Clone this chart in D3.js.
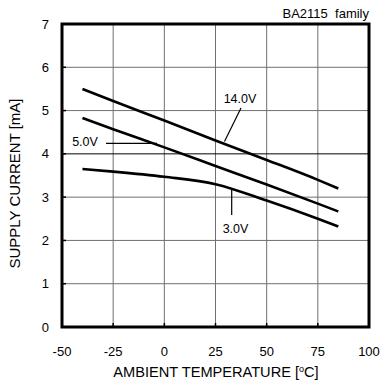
<!DOCTYPE html>
<html>
<head>
<meta charset="utf-8">
<script src="https://cdn.jsdelivr.net/npm/d3@7"></script>
<style>
  html, body { margin: 0; padding: 0; background: #fff; }
  svg text { font-family: Arial, "Liberation Sans", sans-serif; fill: #000; }
</style>
</head>
<body>
<svg id="chart" width="392" height="388"></svg>
<script>
// Supply current vs ambient temperature, three supply voltages
const temps = [-40, -25, 0, 25, 50, 75, 85];
const current14V = [5.50, 5.22, 4.77, 4.31, 3.86, 3.40, 3.20];
const current5V  = [4.83, 4.57, 4.15, 3.72, 3.29, 2.85, 2.67];
const current3V  = [3.65, 3.59, 3.47, 3.30, 2.92, 2.50, 2.32];
const xTicks = [-50, -25, 0, 25, 50, 75, 100];
const yTicks = [0, 1, 2, 3, 4, 5, 6, 7];

const svg = d3.select("#chart");
const plotL = 62, plotR = 369, plotT = 24, plotB = 327;

const x = d3.scaleLinear().domain([-50, 100]).range([plotL, plotR]);
const y = d3.scaleLinear().domain([0, 7]).range([plotB, plotT]);

// grid
const grid = svg.append("g");
grid.selectAll("line.vx").data(xTicks.slice(1, -1)).join("line")
  .attr("x1", d => x(d)).attr("x2", d => x(d))
  .attr("y1", plotT).attr("y2", plotB)
  .attr("stroke", "#707070").attr("stroke-width", 1);
grid.selectAll("line.hy").data(yTicks.slice(1, -1)).join("line")
  .attr("x1", plotL).attr("x2", plotR)
  .attr("y1", d => y(d)).attr("y2", d => y(d))
  .attr("stroke", d => d === 4 ? "#000" : "#707070").attr("stroke-width", 1);

// inner tick marks
svg.append("g").selectAll("line").data(xTicks.slice(1, -1)).join("line")
  .attr("x1", d => x(d)).attr("x2", d => x(d))
  .attr("y1", plotB).attr("y2", plotB - 4)
  .attr("stroke", "#000").attr("stroke-width", 1.5);
svg.append("g").selectAll("line").data(yTicks.slice(1, -1)).join("line")
  .attr("x1", plotL).attr("x2", plotL + 4)
  .attr("y1", d => y(d)).attr("y2", d => y(d))
  .attr("stroke", "#000").attr("stroke-width", 1.5);

// frame
svg.append("rect")
  .attr("x", plotL).attr("y", plotT)
  .attr("width", plotR - plotL).attr("height", plotB - plotT)
  .attr("fill", "none").attr("stroke", "#000").attr("stroke-width", 3);

// tick labels
svg.append("g").selectAll("text").data(xTicks).join("text")
  .attr("x", d => x(d)).attr("y", plotB + 28.5)
  .attr("text-anchor", "middle").attr("font-size", 13)
  .text(d => d);
svg.append("g").selectAll("text").data(yTicks).join("text")
  .attr("x", plotL - 13).attr("y", d => y(d) + 4.5)
  .attr("text-anchor", "end").attr("font-size", 13)
  .text(d => d);

// axis titles
const xTitle = svg.append("text")
  .attr("x", (plotL + 1 + plotR) / 2).attr("y", 377)
  .attr("text-anchor", "middle").attr("font-size", 14.6);
xTitle.append("tspan").text("AMBIENT TEMPERATURE [");
xTitle.append("tspan").attr("font-size", 9).attr("dy", -5).text("o");
xTitle.append("tspan").attr("dy", 5).text("C]");

svg.append("text")
  .attr("transform", `translate(20, ${(plotT + plotB) / 2 + 8}) rotate(-90)`)
  .attr("text-anchor", "middle").attr("font-size", 15)
  .text("SUPPLY CURRENT [mA]");

svg.append("text")
  .attr("x", plotR).attr("y", 18)
  .attr("text-anchor", "end").attr("font-size", 13)
  .attr("xml:space", "preserve")
  .text("BA2115  family");

// curves
const line = d3.line()
  .x((d, i) => x(temps[i]))
  .y(d => y(d))
  .curve(d3.curveMonotoneX);

[current14V, current5V, current3V].forEach(series => {
  svg.append("path")
    .attr("d", line(series))
    .attr("fill", "none")
    .attr("stroke", "#000")
    .attr("stroke-width", 2.6)
    .attr("stroke-linecap", "butt");
});

// callouts
const ann = svg.append("g").attr("stroke", "#000").attr("stroke-width", 1.2);
ann.append("line").attr("x1", 241).attr("y1", 108).attr("x2", 224.5).attr("y2", 141.5);
ann.append("line").attr("x1", 106).attr("y1", 143.3).attr("x2", 157).attr("y2", 143.3);
ann.append("line").attr("x1", 231.7).attr("y1", 189).attr("x2", 231.7).attr("y2", 215);

svg.append("text").attr("x", 240).attr("y", 103)
  .attr("text-anchor", "middle").attr("font-size", 12.5).text("14.0V");
svg.append("text").attr("x", 85).attr("y", 146)
  .attr("text-anchor", "middle").attr("font-size", 12.5).text("5.0V");
svg.append("text").attr("x", 235.5).attr("y", 233)
  .attr("text-anchor", "middle").attr("font-size", 12.5).text("3.0V");
</script>
</body>
</html>
